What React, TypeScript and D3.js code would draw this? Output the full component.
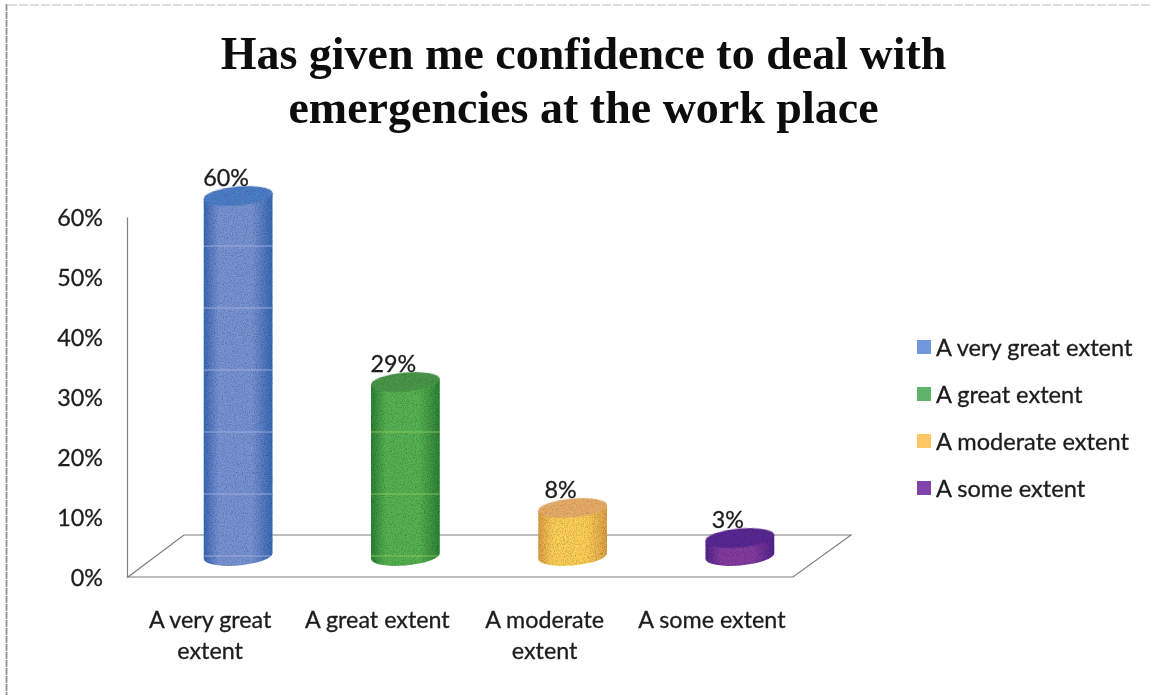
import React, { useEffect, useRef } from "react";
import * as d3 from "d3";

const width = 1152;
const height = 695;

const titleLines = ["Has given me confidence to deal with", "emergencies at the work place"];
const categories = ["A very great extent", "A great extent", "A moderate extent", "A some extent"];
const categoryLines = [["A very great", "extent"], ["A great extent"], ["A moderate", "extent"], ["A some extent"]];
const values = [60, 29, 8, 3];
const yTicks = [0, 10, 20, 30, 40, 50, 60];
const stripeTicks = [0, 10, 20, 30, 40, 50];

const edgeColors = ["#3a6ab8", "#2f8438", "#e0a048", "#55268e"];
const midColors = ["#7a95d6", "#58b452", "#ffd258", "#853da2"];
const capColors = ["#4f80cc", "#4c9a4c", "#ecb06a", "#5c2c96"];
const legendColors = ["#6f96dc", "#5fb36a", "#fdc766", "#7f45ab"];
const stripeColors = ["#a9b4e6", "#8fcf5f", "#ffe27a", "#a060c0"];

const textColor = "#1c1c1e";
const lineColor = "#7f7f7f";
const labelFont = "Lato, sans-serif";
const labelSize = 23.3;

const floorDepth = { dx: 57, dy: -42 };
const baseLift = 21;
const rx = 34.5;
const ry = 9.5;
const tiltDeg = -5;

export default function App() {
  const axisRef = useRef<SVGGElement>(null);

  const y = d3.scaleLinear().domain([0, 60]).range([577, 217]);
  const yStripe = d3.scaleLinear().domain([0, 60]).range([556, 184]);
  const x = d3.scaleBand<string>().domain(categories).range([154.5, 823.5]);
  const legendY = d3.scalePoint<string>().domain(categories).range([347, 488]);

  const floorX0 = 128;
  const floorX1 = 793;
  const y0 = y(0);
  const backY = y0 + floorDepth.dy;

  useEffect(() => {
    if (!axisRef.current) return;
    const axis = d3
      .axisLeft(y)
      .tickValues(yTicks)
      .tickSize(0)
      .tickPadding(24)
      .tickFormat((d) => d + "%");
    const g = d3.select(axisRef.current);
    g.call(axis as any);
    g.select(".domain").attr("stroke", lineColor).attr("stroke-width", 1.2);
    g.selectAll("text")
      .attr("font-family", labelFont)
      .attr("font-size", labelSize)
      .attr("fill", textColor)
      .attr("stroke", textColor)
      .attr("stroke-width", 0.3)
      .attr("dy", "0.38em");
  }, []);

  const cos = Math.cos((tiltDeg * Math.PI) / 180);
  const sin = Math.sin((tiltDeg * Math.PI) / 180);

  return (
    <svg
      width={width}
      height={height}
      viewBox={`0 0 ${width} ${height}`}
      style={{ position: "absolute", left: 0, top: 0, background: "#fff" }}
    >
      <defs>
        {categories.map((c, i) => (
          <linearGradient key={c} id={`body${i}`} x1="0" x2="1" y1="0" y2="0">
            <stop offset="0" stopColor={edgeColors[i]} />
            <stop offset="0.22" stopColor={midColors[i]} />
            <stop offset="0.7" stopColor={midColors[i]} />
            <stop offset="1" stopColor={edgeColors[i]} />
          </linearGradient>
        ))}
        <filter id="grain" x="-5%" y="-5%" width="110%" height="110%">
          <feTurbulence type="fractalNoise" baseFrequency="0.9" numOctaves="2" seed="4" result="n" />
          <feColorMatrix in="n" type="matrix" values="0 0 0 0 0  0 0 0 0 0  0 0 0 0 0  0 0 0 -1.1 0.66" result="dark" />
          <feComposite in="dark" in2="SourceAlpha" operator="in" result="speck" />
          <feMerge>
            <feMergeNode in="SourceGraphic" />
            <feMergeNode in="speck" />
          </feMerge>
        </filter>
        <filter id="soft">
          <feGaussianBlur stdDeviation="0.5" />
        </filter>
      </defs>

      <rect width={width} height={height} fill="#fff" />

      {/* scanned frame */}
      <line x1={6.5} x2={6.5} y1={4} y2={height} stroke="#8f8f8f" strokeWidth={1.8} strokeDasharray="7 1" />
      <line x1={8} x2={width} y1={5} y2={5} stroke="#bdbdbd" strokeWidth={1} strokeDasharray="9 2" />

      <g filter="url(#soft)">
        <g textAnchor="middle" fontFamily="'Liberation Serif', serif" fontWeight="bold" fontSize={46} fill="#111">
          {titleLines.map((t, i) => (
            <text key={t} x={583.5} y={69 + i * 54}>
              {t}
            </text>
          ))}
        </g>

        {/* floor */}
        <path
          d={`M${floorX0},${y0}L${floorX1},${y0}L${floorX1 + floorDepth.dx + 1},${backY}L${floorX0 + floorDepth.dx - 1},${backY}Z`}
          fill="none"
          stroke={lineColor}
          strokeWidth={1.2}
        />

        <g ref={axisRef} transform="translate(127,0)" />

        {/* cylinders */}
        {categories.map((c, i) => {
          const cx = (x(c) as number) + x.bandwidth() / 2;
          const base = y0 - baseLift;
          const top = y(values[i]) - baseLift;
          const dx = rx * cos;
          const dy = rx * sin;
          const body =
            `M${cx - dx},${top - dy}L${cx + dx},${top + dy}L${cx + dx},${base + dy}` +
            `A${rx},${ry} ${tiltDeg} 0 1 ${cx - dx},${base - dy}Z`;
          const stripeClip = `clip${i}`;
          return (
            <g key={c}>
              <clipPath id={stripeClip}>
                <path d={body} />
              </clipPath>
              <path d={body} fill={`url(#body${i})`} filter="url(#grain)" />
              <g clipPath={`url(#${stripeClip})`}>
                {stripeTicks
                  .filter((t) => t < values[i] && values[i] > 20)
                  .map((t) => (
                    <line
                      key={t}
                      x1={cx - dx}
                      x2={cx + dx}
                      y1={yStripe(t)}
                      y2={yStripe(t)}
                      stroke={stripeColors[i]}
                      strokeWidth={1.5}
                      opacity={0.55}
                    />
                  ))}
              </g>
              <ellipse
                cx={cx}
                cy={top}
                rx={rx}
                ry={ry}
                fill={capColors[i]}
                transform={`rotate(${tiltDeg} ${cx} ${top})`}
                filter="url(#grain)"
              />
              <text
                x={cx - 12}
                y={top - 10}
                textAnchor="middle"
                fontFamily={labelFont}
                fontSize={labelSize}
                fill={textColor}
                stroke={textColor}
                strokeWidth={0.3}
              >
                {values[i]}%
              </text>
            </g>
          );
        })}

        {/* category labels */}
        {categories.map((c, i) => (
          <text
            key={c}
            textAnchor="middle"
            fontFamily={labelFont}
            fontSize={labelSize}
            fill={textColor}
            stroke={textColor}
            strokeWidth={0.3}
          >
            {categoryLines[i].map((line, j) => (
              <tspan key={line} x={(x(c) as number) + x.bandwidth() / 2 - 28} y={628 + j * 31}>
                {line}
              </tspan>
            ))}
          </text>
        ))}

        {/* legend */}
        {categories.map((c, i) => (
          <g key={c} transform={`translate(917,${legendY(c)})`}>
            <rect x={0} y={-7} width={14} height={14} fill={legendColors[i]} />
            <text x={19} y={9} fontFamily={labelFont} fontSize={labelSize + 0.3} fill={textColor} stroke={textColor} strokeWidth={0.3}>
              {c}
            </text>
          </g>
        ))}
      </g>
    </svg>
  );
}
